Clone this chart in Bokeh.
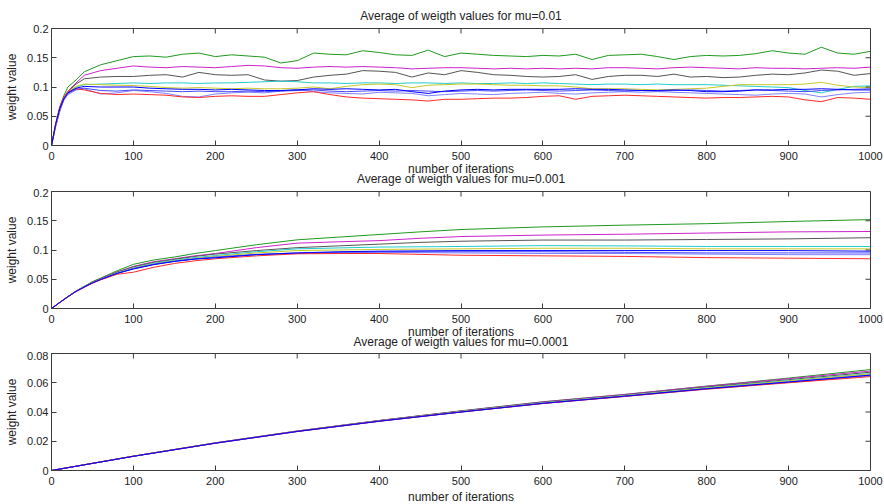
import math
from bokeh.plotting import figure
from bokeh.layouts import column
from bokeh.models import Range1d, FixedTicker, LinearAxis
from bokeh.embed import file_html
from bokeh.resources import INLINE

# ---------------- data ----------------
series_names = ["green", "magenta", "black", "cyan", "yellow", "lightblue", "blue2", "red", "blue"]
series_colors = ["#1f9a1f", "#cc22cc", "#555555", "#22cccc", "#c8c828", "#8080ff", "#4848ff", "#ff2a2a", "#0000ff"]

titles = ["Average of weigth values for mu=0.01",
          "Average of weigth values for mu=0.001",
          "Average of weigth values for mu=0.0001"]
x_label = "number of iterations"
y_label = "weight value"
x_ticks = [0, 100, 200, 300, 400, 500, 600, 700, 800, 900, 1000]
y_ticks_a = [0, 0.05, 0.1, 0.15, 0.2]
y_tick_labels_a = ["0", "0.05", "0.1", "0.15", "0.2"]
y_ticks_c = [0, 0.02, 0.04, 0.06, 0.08]
y_tick_labels_c = ["0", "0.02", "0.04", "0.06", "0.08"]

# mu = 0.01
iters_1 = [0, 5, 10, 15, 20, 30, 40, 60, 80, 100, 120, 140, 160, 180, 200, 220, 240, 260, 280, 300,
           320, 340, 360, 380, 400, 420, 440, 460, 480, 500, 520, 540, 560, 580, 600, 620, 640, 660,
           680, 700, 720, 740, 760, 780, 800, 820, 840, 860, 880, 900, 920, 940, 960, 980, 1000]
green_1 = [0, 0.035, 0.065, 0.085, 0.1, 0.112, 0.126, 0.138, 0.145, 0.152, 0.153, 0.151, 0.156, 0.158,
           0.152, 0.155, 0.153, 0.151, 0.141, 0.145, 0.158, 0.156, 0.155, 0.162, 0.159, 0.155, 0.154,
           0.163, 0.152, 0.158, 0.156, 0.154, 0.153, 0.152, 0.154, 0.153, 0.156, 0.147, 0.154, 0.155,
           0.156, 0.152, 0.147, 0.152, 0.154, 0.153, 0.154, 0.157, 0.162, 0.158, 0.156, 0.168, 0.158,
           0.156, 0.161]
magenta_1 = [0, 0.033, 0.06, 0.08, 0.093, 0.107, 0.12, 0.128, 0.132, 0.136, 0.134, 0.133, 0.135, 0.134,
             0.133, 0.135, 0.137, 0.136, 0.133, 0.132, 0.134, 0.135, 0.134, 0.135, 0.134, 0.133, 0.131,
             0.132, 0.133, 0.133, 0.132, 0.131, 0.132, 0.131, 0.132, 0.131, 0.132, 0.131, 0.133, 0.133,
             0.132, 0.131, 0.133, 0.134, 0.133, 0.132, 0.131, 0.133, 0.132, 0.132, 0.131, 0.132, 0.133,
             0.132, 0.134]
black_1 = [0, 0.032, 0.058, 0.078, 0.092, 0.105, 0.114, 0.117, 0.118, 0.118, 0.12, 0.121, 0.117, 0.125,
           0.121, 0.12, 0.121, 0.112, 0.11, 0.111, 0.117, 0.12, 0.122, 0.128, 0.127, 0.125, 0.117,
           0.124, 0.121, 0.128, 0.125, 0.121, 0.12, 0.118, 0.117, 0.118, 0.121, 0.113, 0.118, 0.12,
           0.12, 0.118, 0.122, 0.117, 0.118, 0.116, 0.117, 0.12, 0.122, 0.121, 0.124, 0.129, 0.127,
           0.12, 0.123]
cyan_1 = [0, 0.034, 0.06, 0.078, 0.09, 0.1, 0.104, 0.105, 0.106, 0.107, 0.106, 0.107, 0.107, 0.106,
          0.107, 0.107, 0.108, 0.109, 0.11, 0.109, 0.107, 0.107, 0.106, 0.107, 0.107, 0.106, 0.107,
          0.107, 0.106, 0.107, 0.106, 0.106, 0.107, 0.106, 0.107, 0.106, 0.105, 0.104, 0.105, 0.105,
          0.104, 0.105, 0.104, 0.104, 0.104, 0.103, 0.102, 0.101, 0.1, 0.099, 0.094, 0.09, 0.096,
          0.101, 0.102]
yellow_1 = [0, 0.035, 0.062, 0.08, 0.092, 0.101, 0.105, 0.104, 0.103, 0.1025, 0.101, 0.099, 0.098,
            0.099, 0.098, 0.097, 0.098, 0.097, 0.097, 0.098, 0.1, 0.097, 0.101, 0.104, 0.105, 0.104,
            0.099, 0.103, 0.104, 0.105, 0.105, 0.104, 0.103, 0.103, 0.102, 0.102, 0.1, 0.097, 0.097,
            0.097, 0.096, 0.095, 0.096, 0.097, 0.098, 0.101, 0.104, 0.104, 0.104, 0.104, 0.105, 0.108,
            0.103, 0.1, 0.099]
lightblue_1 = [0, 0.034, 0.06, 0.077, 0.087, 0.095, 0.097, 0.088, 0.09, 0.094, 0.092, 0.089, 0.084,
               0.083, 0.088, 0.09, 0.091, 0.09, 0.093, 0.096, 0.092, 0.09, 0.089, 0.088, 0.091, 0.09,
               0.089, 0.085, 0.087, 0.089, 0.088, 0.087, 0.089, 0.09, 0.091, 0.089, 0.088, 0.09, 0.091,
               0.092, 0.091, 0.092, 0.091, 0.09, 0.089, 0.088, 0.087, 0.086, 0.088, 0.089, 0.088, 0.083,
               0.087, 0.09, 0.091]
blue2_1 = [0, 0.036, 0.062, 0.079, 0.089, 0.096, 0.098, 0.094, 0.093, 0.095, 0.094, 0.093, 0.092,
           0.093, 0.092, 0.092, 0.093, 0.092, 0.093, 0.094, 0.095, 0.093, 0.092, 0.093, 0.094, 0.093,
           0.094, 0.093, 0.092, 0.093, 0.094, 0.093, 0.094, 0.095, 0.094, 0.093, 0.094, 0.095, 0.094,
           0.093, 0.094, 0.093, 0.094, 0.095, 0.094, 0.093, 0.094, 0.095, 0.094, 0.093, 0.092, 0.094,
           0.095, 0.096, 0.097]
red_1 = [0, 0.037, 0.066, 0.083, 0.092, 0.097, 0.095, 0.089, 0.087, 0.088, 0.087, 0.086, 0.083, 0.082,
         0.084, 0.085, 0.084, 0.084, 0.087, 0.09, 0.092, 0.087, 0.083, 0.081, 0.08, 0.079, 0.078,
         0.076, 0.079, 0.079, 0.08, 0.081, 0.081, 0.082, 0.084, 0.085, 0.079, 0.084, 0.085, 0.086,
         0.085, 0.084, 0.083, 0.082, 0.081, 0.082, 0.082, 0.083, 0.084, 0.083, 0.078, 0.075, 0.082,
         0.081, 0.079]
blue_1 = [0, 0.036, 0.063, 0.08, 0.09, 0.098, 0.101, 0.1, 0.1, 0.1, 0.098, 0.097, 0.096, 0.096, 0.095,
          0.096, 0.095, 0.094, 0.094, 0.095, 0.097, 0.096, 0.097, 0.096, 0.095, 0.096, 0.092, 0.089,
          0.093, 0.095, 0.096, 0.095, 0.096, 0.096, 0.096, 0.096, 0.097, 0.096, 0.096, 0.095, 0.094,
          0.094, 0.095, 0.094, 0.092, 0.092, 0.093, 0.095, 0.095, 0.096, 0.096, 0.097, 0.096, 0.095,
          0.095]

# mu = 0.001
iters_2 = [0, 10, 20, 30, 40, 50, 60, 80, 100, 125, 150, 175, 200, 250, 300, 350, 400, 450, 500,
           600, 700, 800, 900, 1000]
green_2 = [0, 0.0105, 0.0205, 0.03, 0.038, 0.046, 0.052, 0.0645, 0.0755, 0.083, 0.088, 0.094, 0.099,
           0.109, 0.1174, 0.122, 0.1265, 0.131, 0.135, 0.1395, 0.1425, 0.145, 0.1487, 0.152]
magenta_2 = [0, 0.0104, 0.0204, 0.0298, 0.0375, 0.045, 0.051, 0.0625, 0.072, 0.08, 0.085, 0.09, 0.094,
             0.104, 0.1117, 0.114, 0.116, 0.12, 0.123, 0.1255, 0.127, 0.129, 0.131, 0.1316]
black_2 = [0, 0.0103, 0.0203, 0.0296, 0.0372, 0.0445, 0.0505, 0.062, 0.071, 0.079, 0.084, 0.089, 0.093,
           0.099, 0.104, 0.107, 0.11, 0.113, 0.115, 0.117, 0.117, 0.118, 0.119, 0.121]
cyan_2 = [0, 0.0103, 0.0202, 0.0295, 0.037, 0.0442, 0.05, 0.061, 0.0695, 0.0775, 0.0825, 0.087, 0.0905,
          0.097, 0.102, 0.1035, 0.105, 0.1055, 0.106, 0.1075, 0.107, 0.106, 0.106, 0.106]
yellow_2 = [0, 0.0102, 0.0202, 0.0294, 0.0368, 0.044, 0.0498, 0.0605, 0.069, 0.0765, 0.0815, 0.0855,
            0.089, 0.095, 0.099, 0.1, 0.101, 0.1015, 0.102, 0.103, 0.103, 0.102, 0.102, 0.102]
lightblue_2 = [0, 0.0102, 0.0201, 0.0292, 0.0365, 0.0436, 0.0494, 0.0598, 0.068, 0.0755, 0.0805, 0.0845,
               0.0875, 0.092, 0.094, 0.095, 0.096, 0.0955, 0.095, 0.094, 0.094, 0.093, 0.092, 0.092]
blue2_2 = [0, 0.0102, 0.0201, 0.0292, 0.0366, 0.0437, 0.0495, 0.06, 0.0683, 0.0758, 0.0808, 0.0848,
           0.0878, 0.0925, 0.095, 0.096, 0.097, 0.097, 0.097, 0.097, 0.096, 0.095, 0.095, 0.095]
red_2 = [0, 0.0101, 0.02, 0.029, 0.0362, 0.0432, 0.049, 0.0585, 0.062, 0.0705, 0.077, 0.0815, 0.085,
         0.09, 0.0935, 0.094, 0.094, 0.0925, 0.091, 0.09, 0.089, 0.087, 0.086, 0.085]
blue_2 = [0, 0.0102, 0.0201, 0.0293, 0.0367, 0.0438, 0.0496, 0.06, 0.0675, 0.075, 0.0805, 0.0845, 0.0866,
          0.092, 0.095, 0.097, 0.098, 0.0985, 0.099, 0.099, 0.099, 0.099, 0.099, 0.098]

# mu = 0.0001
iters_3 = [0, 100, 200, 300, 400, 500, 600, 700, 800, 900, 1000]
green_3 = [0, 0.0098, 0.0189, 0.027, 0.0342, 0.0408, 0.047, 0.052, 0.0577, 0.0632, 0.069]
magenta_3 = [0, 0.0098, 0.0189, 0.027, 0.0342, 0.0407, 0.0469, 0.052, 0.0576, 0.0628, 0.068]
black_3 = [0, 0.0098, 0.0188, 0.0269, 0.034, 0.0405, 0.0466, 0.0516, 0.0571, 0.0621, 0.0672]
cyan_3 = [0, 0.0098, 0.0188, 0.0268, 0.0339, 0.0403, 0.0463, 0.0513, 0.0566, 0.0615, 0.0663]
yellow_3 = [0, 0.0098, 0.0188, 0.0268, 0.0338, 0.0402, 0.0462, 0.0512, 0.0564, 0.0612, 0.066]
lightblue_3 = [0, 0.0097, 0.0186, 0.0266, 0.0336, 0.0399, 0.0458, 0.0507, 0.0557, 0.0602, 0.0646]
blue2_3 = [0, 0.0097, 0.0187, 0.0267, 0.0337, 0.04, 0.046, 0.0509, 0.056, 0.0606, 0.0652]
red_3 = [0, 0.0098, 0.0187, 0.0267, 0.0337, 0.04, 0.0458, 0.0506, 0.0556, 0.06, 0.0642]
blue_3 = [0, 0.0097, 0.0187, 0.0267, 0.0337, 0.04, 0.0459, 0.0508, 0.0559, 0.0605, 0.0652]

panel_series = [
    (iters_1, [green_1, magenta_1, black_1, cyan_1, yellow_1, lightblue_1, blue2_1, red_1, blue_1]),
    (iters_2, [green_2, magenta_2, black_2, cyan_2, yellow_2, lightblue_2, blue2_2, red_2, blue_2]),
    (iters_3, [green_3, magenta_3, black_3, cyan_3, yellow_3, lightblue_3, blue2_3, red_3, blue_3]),
]

# ---------------- drawing ----------------
FONT = "Liberation Sans"
AXC = "#3c3c3c"
TXT = "#222222"


def style_axis(ax):
    ax.axis_line_color = AXC
    ax.major_tick_line_color = AXC
    ax.major_tick_in = 5
    ax.major_tick_out = 0
    ax.minor_tick_line_color = None
    ax.major_label_text_font = FONT
    ax.major_label_text_color = TXT
    ax.major_label_text_font_size = "11px"
    ax.major_label_standoff = 3
    ax.axis_label_text_font = FONT
    ax.axis_label_text_font_style = "normal"
    ax.axis_label_text_color = TXT
    ax.axis_label_text_font_size = "12px"


def make_panel(idx, top, ymax, yticks, ylabels, xlabel_standoff, next_title_standoff):
    xs, ys_list = panel_series[idx]
    p = figure(frame_width=819, frame_height=117, output_backend="svg", toolbar_location=None,
               x_range=Range1d(0, 1000), y_range=Range1d(0, ymax),
               min_border_left=51, min_border_right=14,
               min_border_top=top, min_border_bottom=0,
               background_fill_color="white", border_fill_color="white")
    p.grid.visible = False
    p.outline_line_color = AXC

    for ys, col in zip(ys_list, series_colors):
        p.line(xs, ys, line_color=col, line_width=1)

    p.xaxis.ticker = FixedTicker(ticks=x_ticks)
    p.yaxis.ticker = FixedTicker(ticks=yticks)
    p.yaxis.major_label_overrides = {t: l for t, l in zip(yticks, ylabels)}
    p.xaxis.axis_label = x_label
    p.yaxis.axis_label = y_label
    style_axis(p.xaxis[0])
    style_axis(p.yaxis[0])
    p.xaxis.major_label_standoff = 6
    p.xaxis.axis_label_standoff = xlabel_standoff
    p.yaxis.axis_label_standoff = 5

    # MATLAB-style inward ticks on the top and right edges of the box
    p.ray(x=x_ticks, y=[ymax] * len(x_ticks), length=5, length_units="screen",
          angle=-math.pi / 2, line_color=AXC, line_width=1)
    p.ray(x=[1000] * len(yticks), y=yticks, length=5, length_units="screen",
          angle=math.pi, line_color=AXC, line_width=1)

    # the next subplot's title sits right under this subplot's x label (as in MATLAB)
    if idx + 1 < len(titles):
        t_ax = LinearAxis(ticker=FixedTicker(ticks=[]), axis_label=titles[idx + 1])
        t_ax.axis_line_color = None
        t_ax.major_tick_line_color = None
        t_ax.minor_tick_line_color = None
        t_ax.major_tick_in = 0
        t_ax.major_tick_out = 0
        t_ax.major_label_standoff = 0
        t_ax.axis_label_standoff = next_title_standoff
        t_ax.axis_label_text_font = FONT
        t_ax.axis_label_text_font_style = "normal"
        t_ax.axis_label_text_font_size = "12px"
        t_ax.axis_label_text_color = TXT
        p.add_layout(t_ax, "below")
    return p


p1 = make_panel(0, 27, 0.2, y_ticks_a, y_tick_labels_a, -1, -7)
p1.title.text = titles[0]
p1.title.align = "center"
p1.title.text_font = FONT
p1.title.text_font_size = "12px"
p1.title.text_font_style = "normal"
p1.title.text_color = TXT
p1.title.standoff = 12

p2 = make_panel(1, 3, 0.2, y_ticks_a, y_tick_labels_a, -1, -7)
p3 = make_panel(2, 2, 0.08, y_ticks_c, y_tick_labels_c, 2, 0)

layout = column(p1, p2, p3, spacing=0)
open("out.html", "w").write(file_html(layout, INLINE))
